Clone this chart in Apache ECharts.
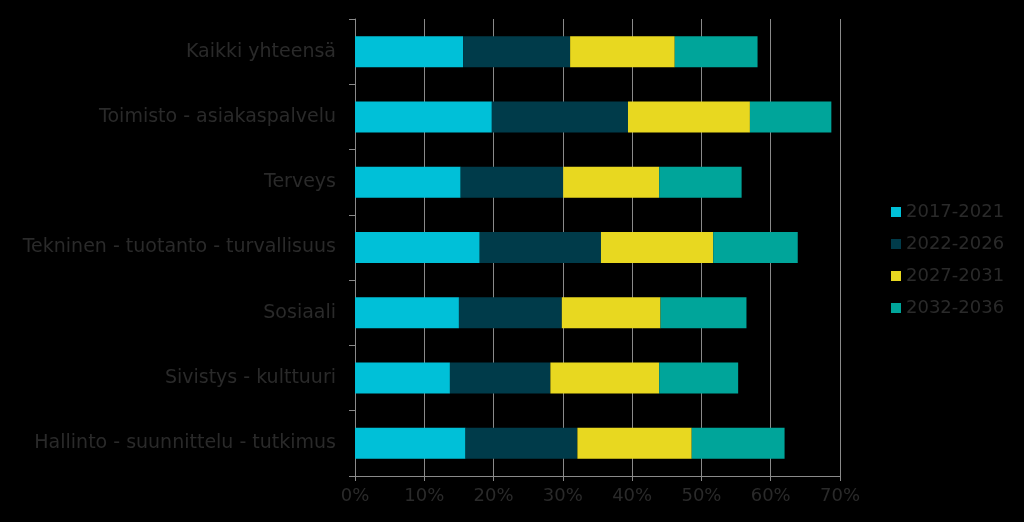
<!DOCTYPE html>
<html><head><meta charset="utf-8">
<script src="https://cdn.jsdelivr.net/npm/echarts@6/dist/echarts.min.js"></script>
<style>html,body{margin:0;padding:0;background:#000;}#c{width:1024px;height:522px;}</style>
</head><body><div id="c"></div>
<script>
var categories = ["Kaikki yhteensä","Toimisto - asiakaspalvelu","Terveys","Tekninen - tuotanto - turvallisuus","Sosiaali","Sivistys - kulttuuri","Hallinto - suunnittelu - tutkimus"];
var seriesNames = ["2017-2021","2022-2026","2027-2031","2032-2036"];
var s2017 = [15.6, 19.75, 15.25, 18.0, 15.0, 13.7, 15.95];
var s2022 = [15.45, 19.65, 14.8, 17.5, 14.85, 14.5, 16.15];
var s2027 = [15.1, 17.6, 13.85, 16.2, 14.25, 15.7, 16.5];
var s2032 = [11.95, 11.75, 11.9, 12.2, 12.4, 11.4, 13.4];
var xTicks = {min: 0, max: 70, interval: 10};
var colors = ["#00C0D8","#003B4A","#E8D820","#00A59A"];
var textColor = "#2a2a2a";
var gridColor = "#8a8a8a";
var font = "'DejaVu Sans', Verdana, sans-serif";
var chart = echarts.init(document.getElementById('c'));
var data = [s2017, s2022, s2027, s2032];
chart.setOption({
  backgroundColor: "#000",
  animation: false,
  grid: {left: 355, right: 184, top: 19, bottom: 46},
  legend: {
    orient: 'vertical', left: 886, top: 198,
    itemWidth: 10, itemHeight: 10, itemGap: 14,
    icon: 'rect',
    textStyle: {color: textColor, fontSize: 18, fontFamily: font},
    data: seriesNames
  },
  xAxis: {
    type: 'value', min: xTicks.min, max: xTicks.max, interval: xTicks.interval,
    axisLabel: {formatter: '{value}%', color: textColor, fontSize: 18, fontFamily: font, margin: 11},
    axisLine: {show: true, lineStyle: {color: gridColor}},
    axisTick: {show: true, length: 5, lineStyle: {color: gridColor}},
    splitLine: {show: true, lineStyle: {color: gridColor, width: 1}}
  },
  yAxis: {
    type: 'category', inverse: true, data: categories,
    axisLabel: {color: textColor, fontSize: 19, fontFamily: font, margin: 19},
    axisLine: {show: true, lineStyle: {color: gridColor}},
    axisTick: {show: true, length: 6, lineStyle: {color: gridColor}}
  },
  series: seriesNames.map(function(n, i){
    return {name: n, type: 'bar', stack: 'all', data: data[i], barWidth: 31,
      itemStyle: {color: colors[i]}};
  })
});
</script></body></html>
